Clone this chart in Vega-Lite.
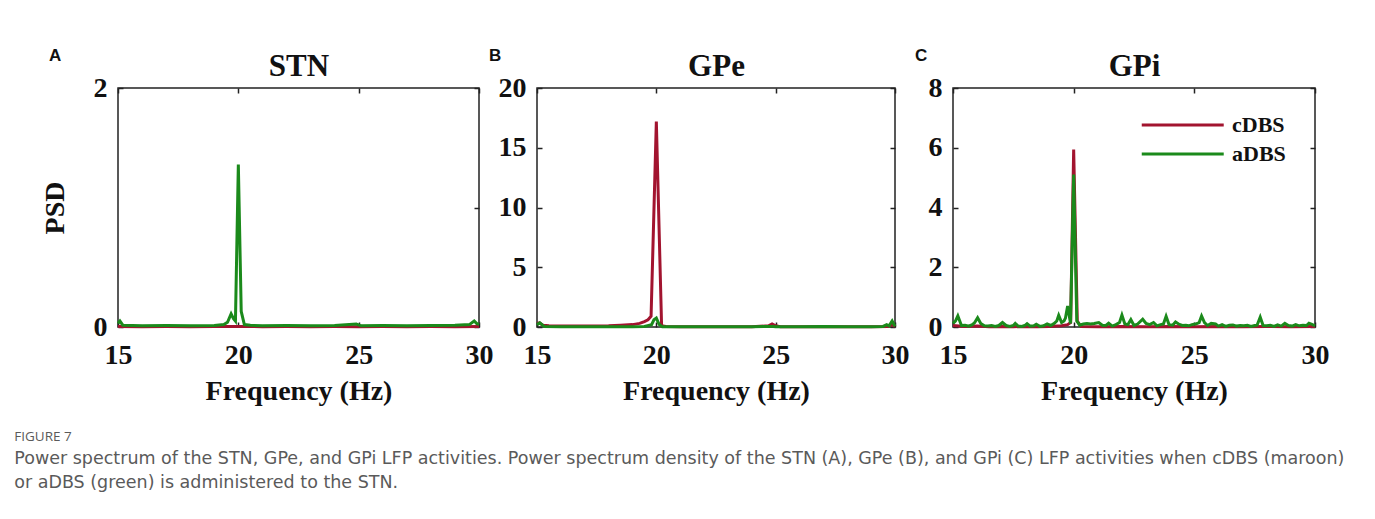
{
  "$schema": "https://vega.github.io/schema/vega-lite/v6.json",
  "background": "white",
  "padding": {"left": 14, "top": 46, "right": 5, "bottom": 5},
  "bounds": "flush",
  "spacing": 58,
  "title": {
    "text": "FIGURE 7",
    "subtitle": [
      "Power spectrum of the STN, GPe, and GPi LFP activities. Power spectrum density of the STN (A), GPe (B), and GPi (C) LFP activities when cDBS (maroon)",
      "or aDBS (green) is administered to the STN."
    ],
    "orient": "bottom",
    "anchor": "start",
    "frame": "bounds",
    "dx": -26,
    "offset": 24,
    "font": "Open Sans",
    "fontSize": 13.5,
    "fontWeight": "normal",
    "color": "#5a5a5a",
    "subtitleFont": "DejaVu Sans",
    "subtitleFontSize": 17.5,
    "subtitleColor": "#5a5a5a",
    "subtitleLineHeight": 24,
    "subtitlePadding": 7
  },
  "data": {"values": [
    {"p":"STN","s":"cDBS","f":15,"v":0.004},{"p":"STN","s":"cDBS","f":16,"v":0.003},{"p":"STN","s":"cDBS","f":17,"v":0.004},{"p":"STN","s":"cDBS","f":18,"v":0.003},{"p":"STN","s":"cDBS","f":19,"v":0.004},{"p":"STN","s":"cDBS","f":20,"v":0.005},{"p":"STN","s":"cDBS","f":21,"v":0.003},{"p":"STN","s":"cDBS","f":22,"v":0.004},{"p":"STN","s":"cDBS","f":23,"v":0.003},{"p":"STN","s":"cDBS","f":24,"v":0.004},{"p":"STN","s":"cDBS","f":25,"v":0.003},{"p":"STN","s":"cDBS","f":26,"v":0.004},{"p":"STN","s":"cDBS","f":27,"v":0.003},{"p":"STN","s":"cDBS","f":28,"v":0.004},{"p":"STN","s":"cDBS","f":29,"v":0.003},{"p":"STN","s":"cDBS","f":30,"v":0.004},
    {"p":"STN","s":"aDBS","f":15.0,"v":0.03},{"p":"STN","s":"aDBS","f":15.08,"v":0.05},{"p":"STN","s":"aDBS","f":15.2,"v":0.015},{"p":"STN","s":"aDBS","f":16,"v":0.01},{"p":"STN","s":"aDBS","f":17,"v":0.012},{"p":"STN","s":"aDBS","f":18,"v":0.01},{"p":"STN","s":"aDBS","f":19,"v":0.012},{"p":"STN","s":"aDBS","f":19.4,"v":0.02},{"p":"STN","s":"aDBS","f":19.55,"v":0.04},{"p":"STN","s":"aDBS","f":19.7,"v":0.11},{"p":"STN","s":"aDBS","f":19.8,"v":0.07},{"p":"STN","s":"aDBS","f":19.88,"v":0.05},{"p":"STN","s":"aDBS","f":20.0,"v":1.36},{"p":"STN","s":"aDBS","f":20.12,"v":0.13},{"p":"STN","s":"aDBS","f":20.25,"v":0.02},{"p":"STN","s":"aDBS","f":20.5,"v":0.015},{"p":"STN","s":"aDBS","f":21,"v":0.01},{"p":"STN","s":"aDBS","f":22,"v":0.012},{"p":"STN","s":"aDBS","f":23,"v":0.01},{"p":"STN","s":"aDBS","f":24,"v":0.012},{"p":"STN","s":"aDBS","f":24.9,"v":0.025},{"p":"STN","s":"aDBS","f":25.1,"v":0.01},{"p":"STN","s":"aDBS","f":26,"v":0.012},{"p":"STN","s":"aDBS","f":27,"v":0.01},{"p":"STN","s":"aDBS","f":28,"v":0.012},{"p":"STN","s":"aDBS","f":29,"v":0.015},{"p":"STN","s":"aDBS","f":29.6,"v":0.02},{"p":"STN","s":"aDBS","f":29.8,"v":0.05},{"p":"STN","s":"aDBS","f":29.9,"v":0.03},{"p":"STN","s":"aDBS","f":30,"v":0.02},
    {"p":"GPe","s":"cDBS","f":15.0,"v":0.3},{"p":"GPe","s":"cDBS","f":15.1,"v":0.35},{"p":"GPe","s":"cDBS","f":15.25,"v":0.15},{"p":"GPe","s":"cDBS","f":15.5,"v":0.1},{"p":"GPe","s":"cDBS","f":16,"v":0.08},{"p":"GPe","s":"cDBS","f":17,"v":0.08},{"p":"GPe","s":"cDBS","f":18,"v":0.1},{"p":"GPe","s":"cDBS","f":18.5,"v":0.15},{"p":"GPe","s":"cDBS","f":19,"v":0.2},{"p":"GPe","s":"cDBS","f":19.3,"v":0.3},{"p":"GPe","s":"cDBS","f":19.5,"v":0.45},{"p":"GPe","s":"cDBS","f":19.65,"v":0.6},{"p":"GPe","s":"cDBS","f":19.78,"v":0.9},{"p":"GPe","s":"cDBS","f":20.0,"v":17.2},{"p":"GPe","s":"cDBS","f":20.22,"v":0.1},{"p":"GPe","s":"cDBS","f":20.4,"v":0.05},{"p":"GPe","s":"cDBS","f":21,"v":0.03},{"p":"GPe","s":"cDBS","f":22,"v":0.02},{"p":"GPe","s":"cDBS","f":23,"v":0.02},{"p":"GPe","s":"cDBS","f":24,"v":0.03},{"p":"GPe","s":"cDBS","f":24.7,"v":0.1},{"p":"GPe","s":"cDBS","f":24.85,"v":0.25},{"p":"GPe","s":"cDBS","f":25.0,"v":0.1},{"p":"GPe","s":"cDBS","f":25.2,"v":0.03},{"p":"GPe","s":"cDBS","f":26,"v":0.02},{"p":"GPe","s":"cDBS","f":27,"v":0.02},{"p":"GPe","s":"cDBS","f":28,"v":0.02},{"p":"GPe","s":"cDBS","f":29,"v":0.02},{"p":"GPe","s":"cDBS","f":29.7,"v":0.05},{"p":"GPe","s":"cDBS","f":29.85,"v":0.2},{"p":"GPe","s":"cDBS","f":30,"v":0.05},
    {"p":"GPe","s":"aDBS","f":15.0,"v":0.2},{"p":"GPe","s":"aDBS","f":15.12,"v":0.35},{"p":"GPe","s":"aDBS","f":15.3,"v":0.05},{"p":"GPe","s":"aDBS","f":16,"v":0.02},{"p":"GPe","s":"aDBS","f":17,"v":0.02},{"p":"GPe","s":"aDBS","f":18,"v":0.03},{"p":"GPe","s":"aDBS","f":19,"v":0.03},{"p":"GPe","s":"aDBS","f":19.5,"v":0.05},{"p":"GPe","s":"aDBS","f":19.8,"v":0.2},{"p":"GPe","s":"aDBS","f":19.9,"v":0.6},{"p":"GPe","s":"aDBS","f":20.0,"v":0.75},{"p":"GPe","s":"aDBS","f":20.12,"v":0.2},{"p":"GPe","s":"aDBS","f":20.25,"v":0.03},{"p":"GPe","s":"aDBS","f":21,"v":0.02},{"p":"GPe","s":"aDBS","f":22,"v":0.02},{"p":"GPe","s":"aDBS","f":23,"v":0.02},{"p":"GPe","s":"aDBS","f":24,"v":0.02},{"p":"GPe","s":"aDBS","f":24.9,"v":0.05},{"p":"GPe","s":"aDBS","f":25,"v":0.03},{"p":"GPe","s":"aDBS","f":26,"v":0.02},{"p":"GPe","s":"aDBS","f":27,"v":0.05},{"p":"GPe","s":"aDBS","f":28,"v":0.02},{"p":"GPe","s":"aDBS","f":29,"v":0.02},{"p":"GPe","s":"aDBS","f":29.5,"v":0.05},{"p":"GPe","s":"aDBS","f":29.65,"v":0.2},{"p":"GPe","s":"aDBS","f":29.75,"v":0.1},{"p":"GPe","s":"aDBS","f":29.88,"v":0.5},{"p":"GPe","s":"aDBS","f":30,"v":0.05},
    {"p":"GPi","s":"cDBS","f":15,"v":0.05},{"p":"GPi","s":"cDBS","f":15.5,"v":0.02},{"p":"GPi","s":"cDBS","f":16,"v":0.03},{"p":"GPi","s":"cDBS","f":16.5,"v":0.01},{"p":"GPi","s":"cDBS","f":17,"v":0.02},{"p":"GPi","s":"cDBS","f":17.5,"v":0.01},{"p":"GPi","s":"cDBS","f":18,"v":0.02},{"p":"GPi","s":"cDBS","f":18.5,"v":0.01},{"p":"GPi","s":"cDBS","f":19,"v":0.02},{"p":"GPi","s":"cDBS","f":19.5,"v":0.04},{"p":"GPi","s":"cDBS","f":19.75,"v":0.08},{"p":"GPi","s":"cDBS","f":19.875,"v":0.15},{"p":"GPi","s":"cDBS","f":20.0,"v":5.94},{"p":"GPi","s":"cDBS","f":20.15,"v":0.2},{"p":"GPi","s":"cDBS","f":20.3,"v":0.02},{"p":"GPi","s":"cDBS","f":21,"v":0.01},{"p":"GPi","s":"cDBS","f":22,"v":0.02},{"p":"GPi","s":"cDBS","f":23,"v":0.01},{"p":"GPi","s":"cDBS","f":24,"v":0.02},{"p":"GPi","s":"cDBS","f":25,"v":0.01},{"p":"GPi","s":"cDBS","f":26,"v":0.02},{"p":"GPi","s":"cDBS","f":27,"v":0.01},{"p":"GPi","s":"cDBS","f":28,"v":0.02},{"p":"GPi","s":"cDBS","f":29,"v":0.01},{"p":"GPi","s":"cDBS","f":30,"v":0.02},
    {"p":"GPi","s":"aDBS","f":15.0,"v":0.12},{"p":"GPi","s":"aDBS","f":15.1,"v":0.2},{"p":"GPi","s":"aDBS","f":15.2,"v":0.37},{"p":"GPi","s":"aDBS","f":15.35,"v":0.05},{"p":"GPi","s":"aDBS","f":15.5,"v":0.06},{"p":"GPi","s":"aDBS","f":15.65,"v":0.03},{"p":"GPi","s":"aDBS","f":15.8,"v":0.08},{"p":"GPi","s":"aDBS","f":15.9,"v":0.15},{"p":"GPi","s":"aDBS","f":16.02,"v":0.31},{"p":"GPi","s":"aDBS","f":16.15,"v":0.12},{"p":"GPi","s":"aDBS","f":16.3,"v":0.04},{"p":"GPi","s":"aDBS","f":16.45,"v":0.03},{"p":"GPi","s":"aDBS","f":16.6,"v":0.05},{"p":"GPi","s":"aDBS","f":16.75,"v":0.02},{"p":"GPi","s":"aDBS","f":16.9,"v":0.05},{"p":"GPi","s":"aDBS","f":17.05,"v":0.15},{"p":"GPi","s":"aDBS","f":17.2,"v":0.05},{"p":"GPi","s":"aDBS","f":17.35,"v":0.02},{"p":"GPi","s":"aDBS","f":17.5,"v":0.05},{"p":"GPi","s":"aDBS","f":17.58,"v":0.12},{"p":"GPi","s":"aDBS","f":17.7,"v":0.03},{"p":"GPi","s":"aDBS","f":17.85,"v":0.02},{"p":"GPi","s":"aDBS","f":18.0,"v":0.06},{"p":"GPi","s":"aDBS","f":18.07,"v":0.11},{"p":"GPi","s":"aDBS","f":18.2,"v":0.03},{"p":"GPi","s":"aDBS","f":18.35,"v":0.04},{"p":"GPi","s":"aDBS","f":18.45,"v":0.09},{"p":"GPi","s":"aDBS","f":18.6,"v":0.02},{"p":"GPi","s":"aDBS","f":18.75,"v":0.04},{"p":"GPi","s":"aDBS","f":18.9,"v":0.1},{"p":"GPi","s":"aDBS","f":19.05,"v":0.05},{"p":"GPi","s":"aDBS","f":19.2,"v":0.12},{"p":"GPi","s":"aDBS","f":19.3,"v":0.2},{"p":"GPi","s":"aDBS","f":19.38,"v":0.39},{"p":"GPi","s":"aDBS","f":19.5,"v":0.15},{"p":"GPi","s":"aDBS","f":19.6,"v":0.2},{"p":"GPi","s":"aDBS","f":19.66,"v":0.3},{"p":"GPi","s":"aDBS","f":19.75,"v":0.7},{"p":"GPi","s":"aDBS","f":19.87,"v":0.12},{"p":"GPi","s":"aDBS","f":20.0,"v":5.1},{"p":"GPi","s":"aDBS","f":20.13,"v":0.2},{"p":"GPi","s":"aDBS","f":20.25,"v":0.06},{"p":"GPi","s":"aDBS","f":20.4,"v":0.1},{"p":"GPi","s":"aDBS","f":20.55,"v":0.12},{"p":"GPi","s":"aDBS","f":20.7,"v":0.1},{"p":"GPi","s":"aDBS","f":20.85,"v":0.12},{"p":"GPi","s":"aDBS","f":21.04,"v":0.15},{"p":"GPi","s":"aDBS","f":21.2,"v":0.05},{"p":"GPi","s":"aDBS","f":21.35,"v":0.06},{"p":"GPi","s":"aDBS","f":21.45,"v":0.13},{"p":"GPi","s":"aDBS","f":21.6,"v":0.03},{"p":"GPi","s":"aDBS","f":21.75,"v":0.08},{"p":"GPi","s":"aDBS","f":21.9,"v":0.15},{"p":"GPi","s":"aDBS","f":22.0,"v":0.4},{"p":"GPi","s":"aDBS","f":22.12,"v":0.1},{"p":"GPi","s":"aDBS","f":22.25,"v":0.08},{"p":"GPi","s":"aDBS","f":22.37,"v":0.25},{"p":"GPi","s":"aDBS","f":22.5,"v":0.05},{"p":"GPi","s":"aDBS","f":22.65,"v":0.1},{"p":"GPi","s":"aDBS","f":22.86,"v":0.26},{"p":"GPi","s":"aDBS","f":23.0,"v":0.12},{"p":"GPi","s":"aDBS","f":23.15,"v":0.08},{"p":"GPi","s":"aDBS","f":23.31,"v":0.15},{"p":"GPi","s":"aDBS","f":23.45,"v":0.04},{"p":"GPi","s":"aDBS","f":23.6,"v":0.08},{"p":"GPi","s":"aDBS","f":23.72,"v":0.1},{"p":"GPi","s":"aDBS","f":23.83,"v":0.36},{"p":"GPi","s":"aDBS","f":23.95,"v":0.08},{"p":"GPi","s":"aDBS","f":24.1,"v":0.06},{"p":"GPi","s":"aDBS","f":24.22,"v":0.17},{"p":"GPi","s":"aDBS","f":24.35,"v":0.1},{"p":"GPi","s":"aDBS","f":24.5,"v":0.05},{"p":"GPi","s":"aDBS","f":24.65,"v":0.06},{"p":"GPi","s":"aDBS","f":24.77,"v":0.04},{"p":"GPi","s":"aDBS","f":24.9,"v":0.08},{"p":"GPi","s":"aDBS","f":25.05,"v":0.1},{"p":"GPi","s":"aDBS","f":25.2,"v":0.15},{"p":"GPi","s":"aDBS","f":25.3,"v":0.37},{"p":"GPi","s":"aDBS","f":25.42,"v":0.15},{"p":"GPi","s":"aDBS","f":25.55,"v":0.05},{"p":"GPi","s":"aDBS","f":25.7,"v":0.12},{"p":"GPi","s":"aDBS","f":25.88,"v":0.1},{"p":"GPi","s":"aDBS","f":26.0,"v":0.03},{"p":"GPi","s":"aDBS","f":26.15,"v":0.08},{"p":"GPi","s":"aDBS","f":26.3,"v":0.02},{"p":"GPi","s":"aDBS","f":26.45,"v":0.06},{"p":"GPi","s":"aDBS","f":26.6,"v":0.07},{"p":"GPi","s":"aDBS","f":26.75,"v":0.03},{"p":"GPi","s":"aDBS","f":26.9,"v":0.05},{"p":"GPi","s":"aDBS","f":27.05,"v":0.04},{"p":"GPi","s":"aDBS","f":27.2,"v":0.06},{"p":"GPi","s":"aDBS","f":27.35,"v":0.02},{"p":"GPi","s":"aDBS","f":27.5,"v":0.05},{"p":"GPi","s":"aDBS","f":27.6,"v":0.06},{"p":"GPi","s":"aDBS","f":27.73,"v":0.33},{"p":"GPi","s":"aDBS","f":27.85,"v":0.05},{"p":"GPi","s":"aDBS","f":28.0,"v":0.04},{"p":"GPi","s":"aDBS","f":28.15,"v":0.06},{"p":"GPi","s":"aDBS","f":28.3,"v":0.02},{"p":"GPi","s":"aDBS","f":28.45,"v":0.07},{"p":"GPi","s":"aDBS","f":28.6,"v":0.03},{"p":"GPi","s":"aDBS","f":28.75,"v":0.12},{"p":"GPi","s":"aDBS","f":28.9,"v":0.05},{"p":"GPi","s":"aDBS","f":29.05,"v":0.03},{"p":"GPi","s":"aDBS","f":29.2,"v":0.08},{"p":"GPi","s":"aDBS","f":29.35,"v":0.04},{"p":"GPi","s":"aDBS","f":29.5,"v":0.06},{"p":"GPi","s":"aDBS","f":29.65,"v":0.05},{"p":"GPi","s":"aDBS","f":29.75,"v":0.13},{"p":"GPi","s":"aDBS","f":29.85,"v":0.1},{"p":"GPi","s":"aDBS","f":30.0,"v":0.04}
  ]},
  "hconcat": [
    {
      "width": 361, "height": 239,
      "title": {"text": "A", "anchor": "start", "frame": "group", "dx": -69, "dy": 15, "offset": 0, "font": "Liberation Sans", "fontSize": 17, "fontWeight": "bold", "color": "#111111"},
      "transform": [{"filter": "datum.p === 'STN'"}],
      "layer": [
        {"transform": [{"filter": "datum.s === 'cDBS'"}],
         "mark": {"type": "line", "strokeWidth": 3},
         "encoding": {
           "x": {"field": "f", "type": "quantitative", "scale": {"domain": [15, 30], "nice": false}, "axis": {"orient": "bottom", "values": [15, 20, 25, 30], "title": "Frequency (Hz)", "labelPadding": 19, "titlePadding": 8}},
           "y": {"field": "v", "type": "quantitative", "scale": {"domain": [0, 2], "nice": false}, "axis": {"orient": "left", "values": [0, 1, 2], "format": "d", "title": "PSD", "labelPadding": 16, "titlePadding": 24}},
           "color": {"field": "s", "type": "nominal", "scale": {"domain": ["cDBS", "aDBS"], "range": ["#A2142F", "#1B8A1B"]}, "legend": null}
         }},
        {"transform": [{"filter": "datum.s === 'aDBS'"}],
         "mark": {"type": "line", "strokeWidth": 3},
         "encoding": {
           "x": {"field": "f", "type": "quantitative", "axis": null},
           "y": {"field": "v", "type": "quantitative", "axis": null},
           "color": {"field": "s", "type": "nominal", "legend": null}
         }},
        {"mark": {"type": "point", "opacity": 0},
         "encoding": {
           "x": {"field": "f", "type": "quantitative", "axis": {"orient": "top", "values": [15, 20, 25, 30], "labels": false, "title": "STN", "titleFontSize": 31, "titlePadding": 5}},
           "y": {"field": "v", "type": "quantitative", "axis": {"orient": "right", "values": [0, 1, 2], "labels": false, "title": null}}
         }}
      ]
    },
    {
      "width": 358, "height": 239,
      "title": {"text": "B", "anchor": "start", "frame": "group", "dx": -48, "dy": 15, "offset": 0, "font": "Liberation Sans", "fontSize": 17, "fontWeight": "bold", "color": "#111111"},
      "transform": [{"filter": "datum.p === 'GPe'"}],
      "layer": [
        {"transform": [{"filter": "datum.s === 'cDBS'"}],
         "mark": {"type": "line", "strokeWidth": 3},
         "encoding": {
           "x": {"field": "f", "type": "quantitative", "scale": {"domain": [15, 30], "nice": false}, "axis": {"orient": "bottom", "values": [15, 20, 25, 30], "title": "Frequency (Hz)", "labelPadding": 19, "titlePadding": 8}},
           "y": {"field": "v", "type": "quantitative", "scale": {"domain": [0, 20], "nice": false}, "axis": {"orient": "left", "values": [0, 5, 10, 15, 20], "format": "d", "title": null, "labelPadding": 16}},
           "color": {"field": "s", "type": "nominal", "scale": {"domain": ["cDBS", "aDBS"], "range": ["#A2142F", "#1B8A1B"]}, "legend": null}
         }},
        {"transform": [{"filter": "datum.s === 'aDBS'"}],
         "mark": {"type": "line", "strokeWidth": 3},
         "encoding": {
           "x": {"field": "f", "type": "quantitative", "axis": null},
           "y": {"field": "v", "type": "quantitative", "axis": null},
           "color": {"field": "s", "type": "nominal", "legend": null}
         }},
        {"mark": {"type": "point", "opacity": 0},
         "encoding": {
           "x": {"field": "f", "type": "quantitative", "axis": {"orient": "top", "values": [15, 20, 25, 30], "labels": false, "title": "GPe", "titleFontSize": 31, "titlePadding": 5}},
           "y": {"field": "v", "type": "quantitative", "axis": {"orient": "right", "values": [0, 5, 10, 15, 20], "labels": false, "title": null}}
         }}
      ]
    },
    {
      "width": 362, "height": 239,
      "title": {"text": "C", "anchor": "start", "frame": "group", "dx": -38, "dy": 15, "offset": 0, "font": "Liberation Sans", "fontSize": 17, "fontWeight": "bold", "color": "#111111"},
      "transform": [{"filter": "datum.p === 'GPi'"}],
      "layer": [
        {"transform": [{"filter": "datum.s === 'cDBS'"}],
         "mark": {"type": "line", "strokeWidth": 3},
         "encoding": {
           "x": {"field": "f", "type": "quantitative", "scale": {"domain": [15, 30], "nice": false}, "axis": {"orient": "bottom", "values": [15, 20, 25, 30], "title": "Frequency (Hz)", "labelPadding": 19, "titlePadding": 8}},
           "y": {"field": "v", "type": "quantitative", "scale": {"domain": [0, 8], "nice": false}, "axis": {"orient": "left", "values": [0, 2, 4, 6, 8], "format": "d", "title": null, "labelPadding": 16}},
           "color": {"field": "s", "type": "nominal", "scale": {"domain": ["cDBS", "aDBS"], "range": ["#A2142F", "#1B8A1B"]},
             "legend": {"orient": "none", "legendX": 187, "legendY": 25, "title": null, "symbolType": "M-1,0H7", "symbolSize": 420, "symbolStrokeWidth": 3, "labelFont": "Liberation Serif", "labelFontWeight": "bold", "labelFontSize": 22, "labelColor": "#111111", "labelOffset": 68, "rowPadding": 6, "padding": 0}}
         }},
        {"transform": [{"filter": "datum.s === 'aDBS'"}],
         "mark": {"type": "line", "strokeWidth": 3},
         "encoding": {
           "x": {"field": "f", "type": "quantitative", "axis": null},
           "y": {"field": "v", "type": "quantitative", "axis": null},
           "color": {"field": "s", "type": "nominal"}
         }},
        {"mark": {"type": "point", "opacity": 0},
         "encoding": {
           "x": {"field": "f", "type": "quantitative", "axis": {"orient": "top", "values": [15, 20, 25, 30], "labels": false, "title": "GPi", "titleFontSize": 31, "titlePadding": 5}},
           "y": {"field": "v", "type": "quantitative", "axis": {"orient": "right", "values": [0, 2, 4, 6, 8], "labels": false, "title": null}}
         }}
      ]
    }
  ],
  "resolve": {"scale": {"color": "independent", "x": "independent", "y": "independent"}, "legend": {"color": "independent"}},
  "config": {
    "view": {"stroke": "#222222", "strokeWidth": 1.5},
    "axis": {
      "labelFont": "Liberation Serif", "labelFontWeight": "bold", "labelFontSize": 28, "labelColor": "#111111",
      "titleFont": "Liberation Serif", "titleFontWeight": "bold", "titleFontSize": 28, "titleColor": "#111111",
      "domain": false, "ticks": true, "tickSize": -5, "tickColor": "#222222", "tickWidth": 1.5,
      "grid": false, "labelFlush": false, "labelOverlap": false
    }
  }
}
